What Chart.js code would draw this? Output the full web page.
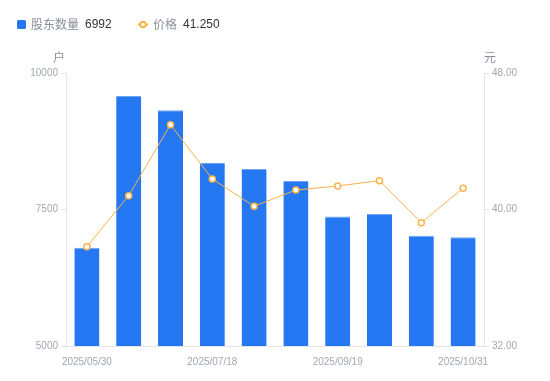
<!DOCTYPE html>
<html>
<head>
<meta charset="utf-8">
<script src="https://cdn.jsdelivr.net/npm/chart.js@4/dist/chart.umd.min.js"></script>
<style>
  html, body { margin: 0; padding: 0; background: #fff; }
  #wrap { position: relative; width: 550px; height: 381px; }
</style>
</head>
<body>
<div id="wrap"><canvas id="holderChart" width="550" height="381"></canvas></div>
<script>
// 日期（只显示每隔三个）
const dates = ['2025/05/30', '2025/06/13', '2025/06/30', '2025/07/18', '2025/07/31',
               '2025/08/29', '2025/09/19', '2025/09/30', '2025/10/20', '2025/10/31'];
// 股东数量（户）
const holders = [6800, 9580, 9320, 8350, 8240, 8020, 7370, 7420, 7020, 6992];
// 价格（元）
const prices = [37.82, 40.81, 44.97, 41.79, 40.19, 41.14, 41.38, 41.69, 39.23, 41.25];

const leftTicks = [5000, 7500, 10000];
const rightTicks = [32, 40, 48];

const palette = {
    blue: '#2677f2',
    orange: '#f9b44a',
    axis: '#e3e5ea',
    tick: '#a3a7b3',
    label: '#8a8f99',
    value: '#333333'
};

const FONT = '"Noto Sans CJK SC", "Liberation Sans", sans-serif';

// 顶部图例 + 轴单位
const overlayPlugin = {
    id: 'overlay',
    afterDraw(chart) {
        const ctx = chart.ctx;
        const area = chart.chartArea;
        ctx.save();
        ctx.textBaseline = 'middle';
        ctx.font = '12px ' + FONT;

        // 股东数量
        ctx.fillStyle = palette.blue;
        ctx.beginPath();
        ctx.roundRect(17, 20, 9, 9, 1.5);
        ctx.fill();
        ctx.fillStyle = palette.label;
        ctx.textAlign = 'left';
        ctx.fillText('股东数量', 31, 24.5);
        ctx.fillStyle = palette.value;
        ctx.font = '12px "Liberation Sans", sans-serif';
        ctx.fillText(String(holders[holders.length - 1]), 85, 24.5);

        // 价格
        ctx.strokeStyle = palette.orange;
        ctx.lineWidth = 2;
        ctx.beginPath();
        ctx.moveTo(138, 24.5);
        ctx.lineTo(148, 24.5);
        ctx.stroke();
        ctx.beginPath();
        ctx.arc(143, 24.5, 2.8, 0, Math.PI * 2);
        ctx.fillStyle = '#fff';
        ctx.fill();
        ctx.stroke();
        ctx.font = '12px ' + FONT;
        ctx.fillStyle = palette.label;
        ctx.fillText('价格', 153, 24.5);
        ctx.fillStyle = palette.value;
        ctx.font = '12px "Liberation Sans", sans-serif';
        ctx.fillText(prices[prices.length - 1].toFixed(3), 183, 24.5);

        // 单位
        ctx.font = '12px ' + FONT;
        ctx.fillStyle = palette.label;
        ctx.textAlign = 'center';
        ctx.fillText('户', area.left - 7, 57);
        ctx.fillText('元', area.right + 6, 57);
        ctx.restore();
    }
};

const tickFont = { family: '"Liberation Sans", sans-serif', size: 10 };

new Chart(document.getElementById('holderChart').getContext('2d'), {
    type: 'bar',
    data: {
        labels: dates,
        datasets: [
            {
                type: 'line',
                label: '价格',
                data: prices,
                yAxisID: 'y1',
                borderColor: palette.orange,
                borderWidth: 1,
                pointRadius: 3,
                pointBorderWidth: 1.5,
                pointBackgroundColor: '#fff',
                pointBorderColor: palette.orange,
                tension: 0,
                order: 0
            },
            {
                label: '股东数量',
                data: holders,
                yAxisID: 'y',
                backgroundColor: palette.blue,
                borderColor: '#6ea3f5',
                borderWidth: { top: 1, left: 0, right: 0, bottom: 0 },
                categoryPercentage: 0.6,
                barPercentage: 1,
                order: 1
            }
        ]
    },
    options: {
        responsive: false,
        animation: false,
        layout: { padding: { top: 73, left: 0, right: 0, bottom: 0 } },
        plugins: {
            legend: { display: false },
            tooltip: { enabled: false }
        },
        scales: {
            x: {
                afterFit(scale) { scale.height = 35; },
                grid: { display: false },
                border: { display: true, color: palette.axis },
                ticks: {
                    autoSkip: false,
                    maxRotation: 0,
                    color: palette.tick,
                    font: tickFont,
                    padding: 2,
                    callback(v, i) { return i % 3 === 0 ? dates[i] : ''; }
                }
            },
            y: {
                position: 'left',
                min: 5000,
                max: 10000,
                afterFit(scale) { scale.width = 66; },
                afterBuildTicks(scale) { scale.ticks = leftTicks.map(v => ({ value: v })); },
                grid: { drawOnChartArea: false, drawTicks: true, tickLength: 5, color: palette.axis },
                border: { display: true, color: palette.axis },
                ticks: {
                    color: palette.tick,
                    font: tickFont,
                    padding: 3,
                    callback(v) { return String(v); }
                }
            },
            y1: {
                position: 'right',
                min: 32,
                max: 48,
                afterFit(scale) { scale.width = 66; },
                afterBuildTicks(scale) { scale.ticks = rightTicks.map(v => ({ value: v })); },
                grid: { drawOnChartArea: false, drawTicks: true, tickLength: 5, color: palette.axis },
                border: { display: true, color: palette.axis },
                ticks: {
                    color: palette.tick,
                    font: tickFont,
                    padding: 3,
                    callback(v) { return Number(v).toFixed(2); }
                }
            }
        }
    },
    plugins: [overlayPlugin]
});
</script>
</body>
</html>
